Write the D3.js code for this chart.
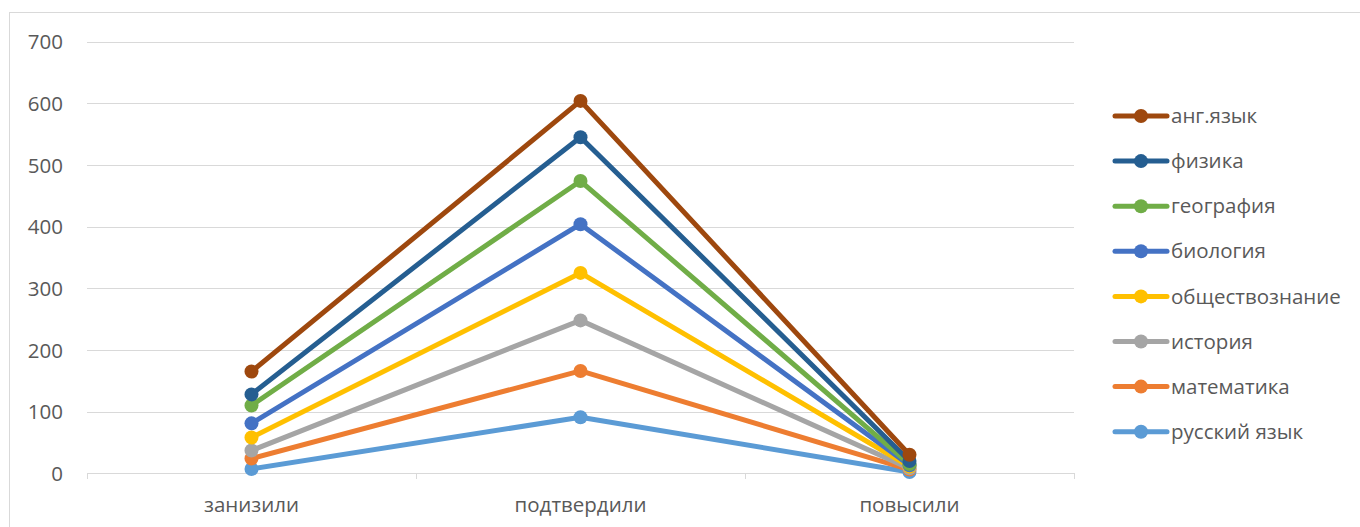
<!DOCTYPE html>
<html><head><meta charset="utf-8">
<script src="https://cdn.jsdelivr.net/npm/d3@7"></script>
<style>body{margin:0;background:#fff}svg{display:block}</style>
</head><body>
<svg id="c" width="1360" height="527"></svg>
<script>
const categories = ["занизили", "подтвердили", "повысили"];
const seriesNames = ["русский язык", "математика", "история", "обществознание", "биология", "география", "физика", "анг.язык"];
const seriesColors = ["#5B9BD5", "#ED7D31", "#A5A5A5", "#FFC000", "#4472C4", "#70AD47", "#255E91", "#9E480E"];
// values per series (stacked line chart)
const russian = [7, 91, 2];
const math = [17, 75, 4];
const history = [13, 82, 2];
const social = [21, 77, 3];
const biology = [23, 79, 2];
const geography = [29, 70, 2];
const physics = [18, 71, 5];
const english = [37, 59, 10];
const yTicks = [0, 100, 200, 300, 400, 500, 600, 700];

const seriesValues = [russian, math, history, social, biology, geography, physics, english];
const rows = categories.map((c, i) => {
  const r = {cat: c};
  seriesNames.forEach((s, j) => r[s] = seriesValues[j][i]);
  return r;
});
const stacked = d3.stack().keys(seriesNames)(rows);

const svg = d3.select("#c");
const font = "'Open Sans', sans-serif";
const fs = 20.5;
const textColor = "#595959";
svg.append("rect").attr("x", 9.5).attr("y", 12.5).attr("width", 1360).attr("height", 530)
  .attr("fill", "#fff").attr("stroke", "#d9d9d9");

const x = d3.scaleBand().domain(categories).range([87, 1074]);
const y = d3.scaleLinear().domain([0, 700]).range([473.3, 41.7]);

// gridlines
svg.append("g").selectAll("line").data(yTicks.filter(t => t > 0)).join("line")
  .attr("x1", 87).attr("x2", 1074)
  .attr("y1", d => Math.round(y(d)) + 0.5).attr("y2", d => Math.round(y(d)) + 0.5)
  .attr("stroke", "#d9d9d9").attr("stroke-width", 1);

// y axis labels
const yAxis = d3.axisLeft(y).tickValues(yTicks).tickSize(0).tickPadding(0);
const gy = svg.append("g").attr("transform", "translate(63,0)").call(yAxis);
gy.select(".domain").remove();
gy.selectAll("text").attr("font-family", font).attr("font-size", fs).attr("fill", textColor).attr("dy", "0.35em");

// x axis
const xAxis = d3.axisBottom(x).tickSize(0).tickPadding(0);
const gx = svg.append("g").attr("transform", "translate(0," + (Math.round(y(0)) + 0.5) + ")").call(xAxis);
gx.select(".domain").attr("stroke", "#d9d9d9").attr("d", "M87,0H1074");
gx.selectAll("text").attr("font-family", font).attr("font-size", fs).attr("fill", textColor).attr("dy", "1.9em");
// category boundary ticks
const bounds = categories.map(c => x(c)).concat([x.range()[1]]);
svg.append("g").selectAll("line").data(bounds).join("line")
  .attr("x1", d => Math.round(d) + 0.5).attr("x2", d => Math.round(d) + 0.5)
  .attr("y1", Math.round(y(0))).attr("y2", Math.round(y(0)) + 6)
  .attr("stroke", "#d9d9d9");

// lines
const cx = d => x(d.data.cat) + x.bandwidth() / 2;
const line = d3.line().x(cx).y(d => y(d[1]));
const g = svg.append("g");
stacked.forEach((s, i) => {
  g.append("path").datum(s).attr("d", line).attr("fill", "none")
    .attr("stroke", seriesColors[i]).attr("stroke-width", 5).attr("stroke-linejoin", "round").attr("stroke-linecap", "round");
  g.selectAll(null).data(s).join("circle").attr("cx", cx).attr("cy", d => y(d[1])).attr("r", 7)
    .attr("fill", seriesColors[i]);
});

// legend (reverse order)
const leg = svg.append("g");
const order = seriesNames.map((n, i) => i).reverse();
order.forEach((i, k) => {
  const ly = 116 + k * 45.1;
  leg.append("line").attr("x1", 1115).attr("x2", 1167).attr("y1", ly).attr("y2", ly)
    .attr("stroke", seriesColors[i]).attr("stroke-width", 5).attr("stroke-linecap", "round");
  leg.append("circle").attr("cx", 1141).attr("cy", ly).attr("r", 7).attr("fill", seriesColors[i]);
  leg.append("text").attr("x", 1171).attr("y", ly).attr("dy", "0.35em")
    .attr("font-family", font).attr("font-size", fs).attr("fill", textColor).text(seriesNames[i]);
});
</script>
</body></html>
